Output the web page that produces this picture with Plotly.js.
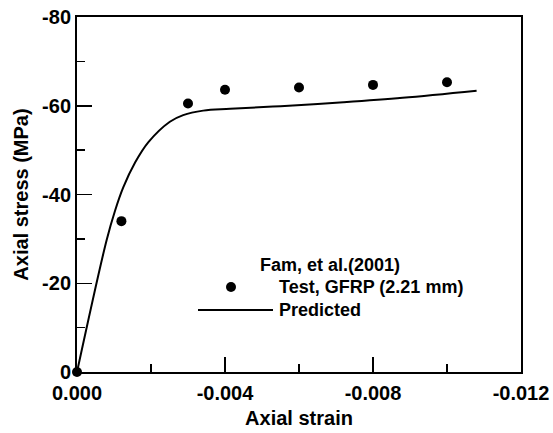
<!DOCTYPE html>
<html>
<head>
<meta charset="utf-8">
<script src="https://cdn.plot.ly/plotly-3.0.1.min.js"></script>
<style>
  html, body { margin: 0; padding: 0; background: #fff; }
  #chart { width: 553px; height: 433px; }
</style>
</head>
<body>
<div id="chart"></div>
<script>
// Fam, et al. (2001): GFRP tube (2.21 mm) axial compression
const testStrain = [0, -0.0012, -0.0030, -0.0040, -0.0060, -0.0080, -0.0100];
const testStress = [0, -34.0, -60.5, -63.6, -64.1, -64.7, -65.3];

const predStrain = [0, -0.0008, -0.00103, -0.00125, -0.00157, -0.00193, -0.00251, -0.00287, -0.00341, -0.00414, -0.0055, -0.0072, -0.0088, -0.0108];
const predStress = [0, -29.7, -36.4, -41.6, -47.2, -51.8, -56.4, -57.9, -58.9, -59.3, -59.9, -60.8, -61.8, -63.4];

const xTickVals = [0, -0.004, -0.008, -0.012];
const xTickText = ['0.000', '-0.004', '-0.008', '-0.012'];
const yTickVals = [0, -20, -40, -60, -80];
const yTickText = ['0', '-20', '-40', '-60', '-80'];

const legendTitle = 'Fam, et al.(2001)';
const testName = 'Test, GFRP (2.21 mm)';
const predName = 'Predicted';

const FONT = 'Liberation Sans, Arial, Helvetica, sans-serif';
const bold = s => '<b>' + s + '</b>';

// plot area in pixels: left 77, right 521, top 17, bottom 372
const L = 77, R = 521, T = 17, B = 372;
const px = x => (x - L) / (R - L);
const py = y => (B - y) / (B - T);

const traces = [
  {
    x: predStrain, y: predStress, name: predName,
    type: 'scatter', mode: 'lines',
    line: { color: '#000', width: 2, shape: 'spline', smoothing: 1 },
    showlegend: false, cliponaxis: false
  },
  {
    x: testStrain, y: testStress, name: testName,
    type: 'scatter', mode: 'markers',
    marker: { color: '#000', size: 10, symbol: 'circle' },
    showlegend: false, cliponaxis: false
  }
];

const tickFont = { family: FONT, size: 20, color: '#000' };
const titleFont = { family: FONT, size: 20, color: '#000' };
const legendFont = { family: FONT, size: 18, color: '#000' };

const axisCommon = {
  showgrid: false, zeroline: false,
  showline: true, linecolor: '#000', linewidth: 2, mirror: true,
  ticks: 'inside', ticklen: 15, tickwidth: 1.5, tickcolor: '#000',
  tickfont: tickFont
};

const layout = {
  width: 553, height: 433,
  margin: { l: L, r: 553 - R, t: T, b: 433 - B },
  paper_bgcolor: '#fff', plot_bgcolor: '#fff',
  showlegend: false,
  xaxis: Object.assign({}, axisCommon, {
    range: [0, -0.012], autorange: false,
    tickmode: 'array', tickvals: xTickVals, ticktext: xTickText.map(bold),
    ticklabelstandoff: 2,
    minor: { dtick: 0.002, tick0: 0, ticks: 'inside', ticklen: 8, tickwidth: 1.5, tickcolor: '#000', showgrid: false },
    title: { text: bold('Axial strain'), font: titleFont, standoff: 8 }
  }),
  yaxis: Object.assign({}, axisCommon, {
    range: [0, -80], autorange: false,
    tickmode: 'array', tickvals: yTickVals, ticktext: yTickText.map(bold),
    minor: { dtick: 10, tick0: 0, ticks: 'inside', ticklen: 8, tickwidth: 1.5, tickcolor: '#000', showgrid: false },
    title: { text: bold('Axial stress (MPa)'), font: titleFont, standoff: 8 }
  }),
  annotations: [
    { text: bold(legendTitle), xref: 'paper', yref: 'paper', x: px(258), y: py(265), xanchor: 'left', yanchor: 'middle', showarrow: false, font: legendFont },
    { text: bold(testName), xref: 'paper', yref: 'paper', x: px(277), y: py(287), xanchor: 'left', yanchor: 'middle', showarrow: false, font: legendFont },
    { text: bold(predName), xref: 'paper', yref: 'paper', x: px(277), y: py(310), xanchor: 'left', yanchor: 'middle', showarrow: false, font: legendFont }
  ],
  shapes: [
    // legend symbol: test marker
    { type: 'circle', xref: 'paper', yref: 'paper', xsizemode: 'pixel', ysizemode: 'pixel',
      xanchor: px(231), yanchor: py(287), x0: -5, x1: 5, y0: -5, y1: 5,
      fillcolor: '#000', line: { width: 0 } },
    // legend symbol: predicted line
    { type: 'line', xref: 'paper', yref: 'paper', x0: px(198), x1: px(273), y0: py(310), y1: py(310),
      line: { color: '#000', width: 2 } }
  ]
};

Plotly.newPlot('chart', traces, layout, { displayModeBar: false, staticPlot: true });
</script>
</body>
</html>
